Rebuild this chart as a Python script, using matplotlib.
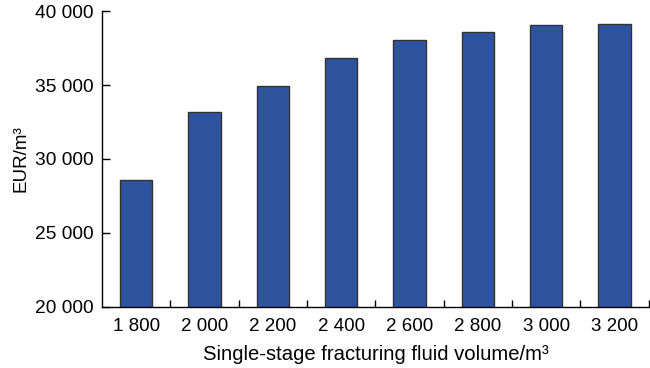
import numpy as np
import matplotlib
matplotlib.use("Agg")
import matplotlib.pyplot as plt
from matplotlib.ticker import FuncFormatter, FixedLocator

# fracturing fluid volume per stage (m3) and EUR (m3)
volumes = [1800, 2000, 2200, 2400, 2600, 2800, 3000, 3200]
eur = [28550, 33150, 34950, 36850, 38050, 38550, 39050, 39150]

plt.rcParams['font.family'] = ['Liberation Sans', 'DejaVu Sans']

fig = plt.figure(figsize=(6.5, 3.68), dpi=100)
ax = fig.add_axes([0.157, 0.166, 0.841, 0.804])

x = np.arange(len(volumes))
ax.bar(x, eur, width=0.47, color='#2E54A0', edgecolor='#333333', linewidth=1.0, zorder=2)

ax.set_xlim(-0.5, len(volumes) - 0.5)
ax.set_ylim(20000, 40000)
ax.set_yticks(np.arange(20000, 40001, 5000))


def space_fmt(v, pos):
    return f"{int(v):,}".replace(",", " ")


ax.yaxis.set_major_formatter(FuncFormatter(space_fmt))
ax.set_xticks(x)
ax.set_xticklabels([space_fmt(v, None) for v in volumes])
# small inward ticks between categories
ax.xaxis.set_minor_locator(FixedLocator(x + 0.5))

ax.tick_params(axis='x', which='major', length=0, pad=8, labelsize=13.5)
ax.tick_params(axis='x', which='minor', direction='in', length=5, width=1)
ax.tick_params(axis='y', which='major', direction='in', length=6, width=1, pad=6, labelsize=13.8)

for s in ['top', 'right']:
    ax.spines[s].set_visible(False)
for s in ['left', 'bottom']:
    ax.spines[s].set_linewidth(1.0)

ax.set_xlabel("Single-stage fracturing fluid volume/m³", fontsize=14.6, labelpad=7)
ax.set_ylabel("EUR/m³", fontsize=13.5, labelpad=4)

fig.savefig("out.png", dpi=100)
